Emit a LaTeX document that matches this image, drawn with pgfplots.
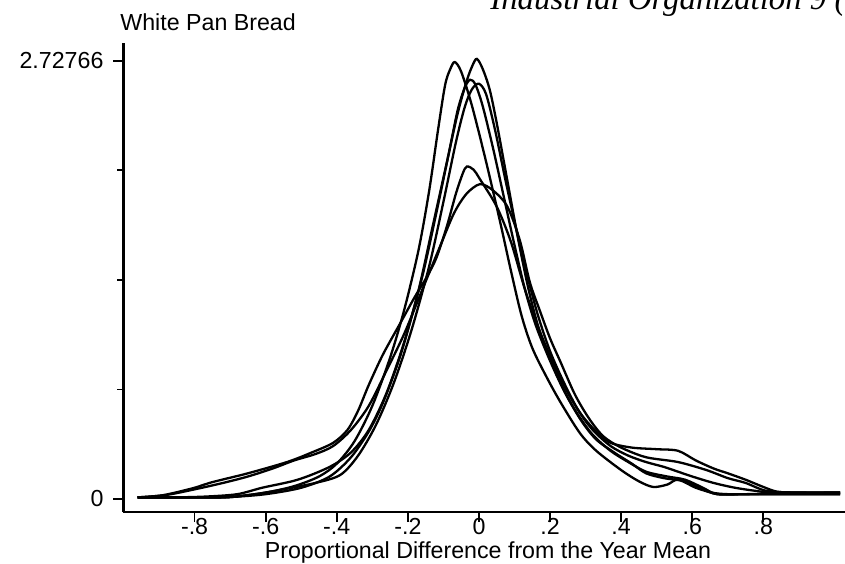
\documentclass[border=0pt]{standalone}
\usepackage{pgfplots}
\pgfplotsset{compat=1.18}
\usepackage{fontspec}
\setmainfont{Liberation Sans}
\newfontfamily\serifit{Liberation Serif}
\newcommand\fs{\fontsize{11.6}{13.9}\selectfont}
\begin{document}
\begin{tikzpicture}
\useasboundingbox (0,0) rectangle (422.5pt,281.5pt);
\begin{axis}[
  at={(61.75pt,25.5pt)}, anchor=south west,
  scale only axis, width=360.8pt, height=234.6pt,
  xmin=-1.0, xmax=1.03, ymin=-0.081, ymax=2.84,
  axis x line*=bottom, axis y line*=left,
  axis line style={-, line width=1.2pt},
  xtick={-0.8,-0.6,-0.4,-0.2,0,0.2,0.4,0.6,0.8},
  xticklabels={-.8,-.6,-.4,-.2,0,.2,.4,.6,.8},
  ytick={0,2.72766}, yticklabels={0,2.72766},
  minor ytick={0.681915,1.36383,2.045745},
  tick align=outside, major tick length=5pt, minor tick length=3pt,
  tick style={line width=0.9pt, black},
  tick label style={font=\fs},
  xticklabel style={yshift=5.5pt},
  yticklabel style={xshift=-1.5pt},
  label style={font=\fs},
  xlabel={Proportional Difference from the Year Mean},
  xlabel style={at={(axis description cs:0.505,0)}, anchor=center, yshift=-20pt},
  /pgf/number format/assume math mode=true,
]
% A
\addplot[black, line width=1.15pt, smooth, tension=0.5] coordinates {
(-0.96,0.01) (-0.85,0.01) (-0.75,0.01) (-0.7,0.012) (-0.6,0.04) (-0.52,0.08) (-0.45,0.14) (-0.40,0.22) (-0.35,0.36) (-0.30,0.58) (-0.25,0.88) (-0.21,1.18) (-0.17,1.55) (-0.14,1.92) (-0.115,2.3) (-0.095,2.58) (-0.08,2.68) (-0.068,2.72) (-0.05,2.66) (-0.02,2.45) (0.02,2.1) (0.06,1.72) (0.09,1.42) (0.12,1.14) (0.15,0.94) (0.19,0.76) (0.23,0.60) (0.284,0.41) (0.33,0.30) (0.40,0.18) (0.45,0.11) (0.49,0.075) (0.53,0.09) (0.56,0.12) (0.61,0.07) (0.655,0.04) (0.7,0.03) (0.8,0.03) (0.9,0.03) (1.016,0.03)
};
% B
\addplot[black, line width=1.15pt, smooth, tension=0.5] coordinates {
(-0.96,0.01) (-0.86,0.01) (-0.77,0.01) (-0.70,0.012) (-0.6,0.03) (-0.5,0.07) (-0.42,0.14) (-0.36,0.26) (-0.31,0.42) (-0.27,0.6) (-0.22,0.9) (-0.17,1.3) (-0.13,1.7) (-0.09,2.1) (-0.06,2.4) (-0.035,2.6) (-0.018,2.7) (-0.006,2.74) (0.01,2.68) (0.03,2.55) (0.05,2.34) (0.08,1.98) (0.11,1.62) (0.14,1.3) (0.17,1.05) (0.21,0.82) (0.25,0.63) (0.29,0.48) (0.33,0.37) (0.38,0.29) (0.43,0.22) (0.47,0.16) (0.52,0.13) (0.58,0.11) (0.63,0.06) (0.67,0.03) (0.75,0.03) (0.85,0.03) (1.016,0.03)
};
% C
\addplot[black, line width=1.15pt, smooth, tension=0.5] coordinates {
(-0.96,0.01) (-0.86,0.01) (-0.77,0.015) (-0.68,0.03) (-0.61,0.07) (-0.51,0.12) (-0.42,0.2) (-0.36,0.29) (-0.31,0.43) (-0.26,0.66) (-0.21,0.98) (-0.16,1.38) (-0.12,1.78) (-0.085,2.15) (-0.06,2.42) (-0.04,2.56) (-0.025,2.61) (-0.01,2.58) (0.01,2.45) (0.04,2.18) (0.07,1.88) (0.10,1.58) (0.13,1.3) (0.16,1.08) (0.2,0.86) (0.24,0.67) (0.28,0.52) (0.32,0.40) (0.37,0.30) (0.42,0.23) (0.47,0.17) (0.53,0.14) (0.58,0.12) (0.63,0.07) (0.67,0.03) (0.75,0.03) (0.85,0.035) (1.016,0.035)
};
% D
\addplot[black, line width=1.15pt, smooth, tension=0.5] coordinates {
(-0.96,0.01) (-0.86,0.01) (-0.77,0.01) (-0.7,0.012) (-0.63,0.03) (-0.56,0.056) (-0.46,0.1) (-0.39,0.15) (-0.34,0.27) (-0.29,0.46) (-0.24,0.72) (-0.19,1.05) (-0.14,1.45) (-0.10,1.85) (-0.065,2.22) (-0.04,2.44) (-0.02,2.55) (0.0,2.585) (0.02,2.52) (0.045,2.3) (0.075,1.98) (0.105,1.68) (0.135,1.4) (0.165,1.15) (0.2,0.92) (0.24,0.72) (0.28,0.55) (0.32,0.43) (0.37,0.33) (0.42,0.27) (0.47,0.23) (0.52,0.2) (0.56,0.17) (0.6,0.14) (0.66,0.1) (0.72,0.07) (0.78,0.05) (0.82,0.04) (0.9,0.04) (1.016,0.04)
};
% E
\addplot[black, line width=1.15pt, smooth, tension=0.5] coordinates {
(-0.96,0.01) (-0.9,0.02) (-0.86,0.037) (-0.8,0.07) (-0.75,0.105) (-0.65,0.16) (-0.54,0.23) (-0.47,0.29) (-0.41,0.35) (-0.37,0.43) (-0.34,0.55) (-0.31,0.71) (-0.27,0.9) (-0.22,1.1) (-0.18,1.26) (-0.15,1.37) (-0.12,1.5) (-0.09,1.7) (-0.065,1.9) (-0.045,2.03) (-0.034,2.07) (-0.015,2.05) (0.003,1.99) (0.05,1.82) (0.09,1.6) (0.13,1.3) (0.17,1.05) (0.21,0.84) (0.25,0.66) (0.29,0.52) (0.33,0.42) (0.37,0.35) (0.43,0.32) (0.5,0.31) (0.56,0.30) (0.61,0.24) (0.66,0.19) (0.7,0.16) (0.75,0.12) (0.8,0.075) (0.84,0.045) (0.9,0.04) (1.016,0.04)
};
% F
\addplot[black, line width=1.15pt, smooth, tension=0.5] coordinates {
(-0.96,0.01) (-0.88,0.025) (-0.8,0.06) (-0.72,0.1) (-0.65,0.14) (-0.58,0.19) (-0.52,0.24) (-0.46,0.28) (-0.41,0.33) (-0.36,0.43) (-0.31,0.58) (-0.26,0.8) (-0.21,1.03) (-0.16,1.3) (-0.11,1.57) (-0.07,1.78) (-0.035,1.9) (0.003,1.96) (0.04,1.92) (0.08,1.82) (0.115,1.61) (0.143,1.35) (0.17,1.18) (0.2,1.0) (0.23,0.85) (0.27,0.65) (0.31,0.5) (0.35,0.39) (0.40,0.32) (0.47,0.26) (0.56,0.23) (0.64,0.18) (0.7,0.13) (0.75,0.10) (0.81,0.05) (0.9,0.04) (1.016,0.04)
};
\end{axis}
\node[anchor=west, inner sep=0pt, font=\fs] at (60pt,270.5pt) {White Pan Bread};
\node[anchor=base west, inner sep=0pt, font=\serifit\itshape\fontsize{16.4}{18}\selectfont] at (245pt,276.75pt) {Industrial Organization 9 (1995)};
\end{tikzpicture}
\end{document}
